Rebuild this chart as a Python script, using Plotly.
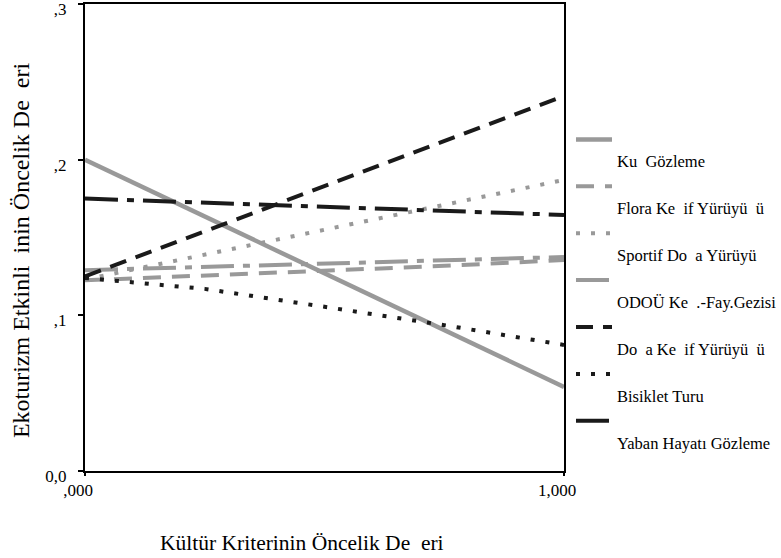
import plotly.graph_objects as go

# Data
x_vals = [0.0, 0.25, 0.5, 0.75, 1.0]

series_names = [
    "Ku\u00a0\u00a0Gözleme",
    "Flora Ke\u00a0\u00a0if Yürüyü\u00a0\u00a0ü",
    "Sportif Do\u00a0\u00a0a Yürüyü",
    "ODOÜ Ke\u00a0\u00a0.-Fay.Gezisi",
    "Do\u00a0\u00a0a Ke\u00a0\u00a0if Yürüyü\u00a0\u00a0ü",
    "Bisiklet Turu",
    "Yaban Hayatı Gözleme",
]

kus_gozleme = [0.200, 0.1635, 0.127, 0.0905, 0.054]
flora_kesif = [0.1225, 0.1255, 0.1285, 0.1318, 0.1355]
sportif_doga = [0.123, 0.139, 0.155, 0.171, 0.187]
odou_kesif = [0.129, 0.131, 0.133, 0.135, 0.1375]
doga_kesif = [0.125, 0.154, 0.183, 0.212, 0.241]
bisiklet_turu = [0.124, 0.117, 0.1055, 0.0937, 0.081]
yaban_hayati = [0.175, 0.1725, 0.170, 0.167, 0.1645]

series_values = [kus_gozleme, flora_kesif, sportif_doga, odou_kesif,
                 doga_kesif, bisiklet_turu, yaban_hayati]

y_tickvals = [0.0, 0.1, 0.2, 0.3]
y_ticktext = ["0,0", ",1", ",2", ",3"]
x_tickvals = [0.0, 1.0]
x_ticktext = [",000", "1,000"]

X_TITLE = "Kültür Kriterinin Öncelik De\u00a0\u00a0eri"
Y_TITLE = "Ekoturizm Etkinli\u00a0\u00a0inin Öncelik De\u00a0\u00a0eri"

GRAY = "#999999"
BLACK = "#1a1a1a"
styles = [
    (GRAY, "solid", 4.5),
    (GRAY, "18px,11px", 4),
    (GRAY, "4px,11px", 4),
    (GRAY, "33px,9px,7px,9px", 4),
    (BLACK, "17px,10px", 4),
    (BLACK, "4px,11px", 4),
    (BLACK, "33px,9px,7px,9px", 4),
]

FONT = "Liberation Serif"

fig = go.Figure()
for i, (name, vals) in enumerate(zip(series_names, series_values)):
    color, dash, width = styles[i]
    fig.add_trace(go.Scatter(
        x=x_vals, y=vals, mode="lines", name="<br>" + name,
        legendgroup=str(i),
        line=dict(color=color, dash=dash, width=width),
    ))

fig.update_layout(
    width=781, height=558,
    margin=dict(l=85, r=217, t=4, b=87, autoexpand=False),
    paper_bgcolor="white", plot_bgcolor="white",
    font=dict(family=FONT, size=17, color="black"),
    showlegend=True,
    legend=dict(
        x=1.0146, xanchor="left", y=0.747, yanchor="top",
        valign="top", traceorder="grouped", tracegroupgap=1,
        font=dict(family=FONT, size=16.5, color="black"),
        itemwidth=36, bgcolor="rgba(0,0,0,0)",
    ),
    xaxis=dict(
        range=[0, 1], tickvals=x_tickvals, ticktext=x_ticktext,
        showline=True, linecolor="black", linewidth=2, mirror=True,
        ticks="outside", ticklen=3, tickwidth=2, tickcolor="black",
        showgrid=False, zeroline=False, ticklabelshift=-7,
        ticklabeloverflow="allow",
        automargin=False,
    ),
    yaxis=dict(
        range=[0, 0.30002], tickvals=y_tickvals, ticktext=y_ticktext,
        showline=True, linecolor="black", linewidth=2, mirror=True,
        ticks="outside", ticklen=5, tickwidth=2, tickcolor="black",
        showgrid=False, zeroline=False, ticklabelstandoff=8,
        ticklabelshift=5, ticklabeloverflow="allow",
        automargin=False,
    ),
    annotations=[
        dict(text=X_TITLE, xref="paper", yref="paper",
             x=0.452, y=-0.154, xanchor="center", yanchor="middle",
             showarrow=False, font=dict(family=FONT, size=21.5)),
        dict(text=Y_TITLE, xref="paper", yref="paper", textangle=-90,
             x=-0.1336, y=0.473, xanchor="center", yanchor="middle",
             showarrow=False, font=dict(family=FONT, size=24)),
    ],
)

fig.write_html("out.html", config={"displayModeBar": False},
               post_script="document.body.style.margin='0';")
